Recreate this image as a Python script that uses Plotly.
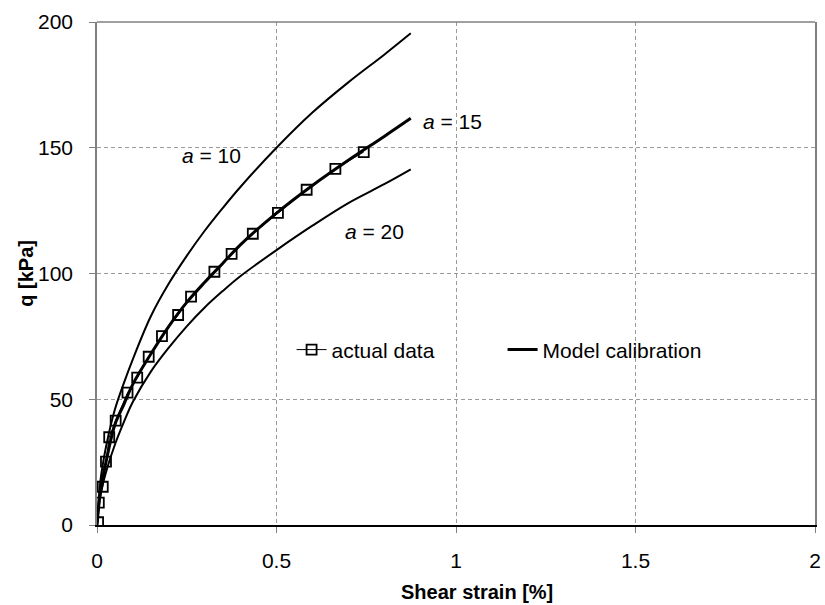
import plotly.graph_objects as go

# Measured stress-strain points
data_strain = [0.003, 0.005, 0.016, 0.025, 0.034, 0.052, 0.085, 0.112, 0.144, 0.181,
               0.226, 0.262, 0.327, 0.375, 0.434, 0.504, 0.584, 0.664, 0.743]
data_q = [1.1, 8.9, 15.2, 25.2, 34.9, 41.5, 52.6, 58.6, 66.9, 75.1,
          83.5, 90.8, 100.7, 107.8, 115.8, 124.1, 133.3, 141.6, 148.3]

# Model curves for a = 10, 15 (calibrated) and 20
model_strain = [0, 0.01, 0.025, 0.05, 0.075, 0.1, 0.15, 0.2, 0.25, 0.3, 0.35, 0.4,
                0.5, 0.6, 0.7, 0.8, 0.874]
q_a10 = [0, 18, 31, 46, 56.5, 66, 83, 96, 107, 117, 126, 134.5,
         150, 164, 176, 187, 195.5]
q_a15 = [0, 14, 25, 40, 48, 56, 68, 79, 88.5, 96.5, 104, 111.5,
         124, 135, 145, 154.5, 161.7]
q_a20 = [0, 12, 21, 32, 41, 49, 61, 70.5, 79, 86.5, 93, 99,
         109.3, 119, 128, 135.5, 141.4]

curve_labels = ["<i>a</i> = 10", "<i>a</i> = 15", "<i>a</i> = 20"]
label_x = [0.318, 0.990, 0.773]
label_y = [147.1, 160.4, 116.6]

x_ticks = [0, 0.5, 1, 1.5, 2]
x_tick_text = ["0", "0.5", "1", "1.5", "2"]
y_ticks = [0, 50, 100, 150, 200]

FONT = "Liberation Sans, Arial, sans-serif"
GRID = "#9a9a9a"
FRAME = "#808080"
DASH = "4px,3px"

fig = go.Figure()

fig.add_trace(go.Scatter(x=model_strain, y=q_a10, mode="lines",
                         line=dict(color="black", width=2, shape="spline", smoothing=1),
                         showlegend=False))
fig.add_trace(go.Scatter(x=model_strain, y=q_a20, mode="lines",
                         line=dict(color="black", width=2, shape="spline", smoothing=1),
                         showlegend=False))
fig.add_trace(go.Scatter(x=data_strain, y=data_q, mode="lines+markers",
                         name="actual data",
                         line=dict(color="black", width=1),
                         marker=dict(symbol="square-open", size=10, color="black",
                                     line=dict(color="black", width=1.8))))
fig.add_trace(go.Scatter(x=model_strain, y=q_a15, mode="lines",
                         name="Model calibration",
                         line=dict(color="black", width=3, shape="spline", smoothing=1)))

for txt, lx, ly in zip(curve_labels, label_x, label_y):
    fig.add_annotation(x=lx, y=ly, text=txt, showarrow=False,
                       font=dict(family=FONT, size=21, color="black"),
                       xanchor="center", yanchor="middle")

# Axis titles
fig.add_annotation(xref="paper", yref="paper", x=0.529, y=-0.133,
                   text="<b>Shear strain [%]</b>", showarrow=False,
                   font=dict(family=FONT, size=20, color="black"),
                   xanchor="center", yanchor="middle")
fig.add_annotation(xref="paper", yref="paper", x=-0.1, y=0.5,
                   text="<b>q [kPa]</b>", showarrow=False, textangle=-90,
                   font=dict(family=FONT, size=20, color="black"),
                   xanchor="center", yanchor="middle")

# Top border of the plot area
fig.add_shape(type="line", xref="paper", yref="paper", x0=0, x1=1, y0=1, y1=1,
              line=dict(color=FRAME, width=1.5))

fig.update_xaxes(range=[0, 2], tickvals=x_ticks, ticktext=x_tick_text,
                 showgrid=True, gridcolor=GRID, griddash=DASH, gridwidth=1,
                 showline=True, linecolor="black", linewidth=1.5,
                 ticks="outside", ticklen=6, tickcolor=FRAME,
                 zeroline=False, ticklabelstandoff=10,
                 tickfont=dict(family=FONT, size=21, color="black"))
fig.update_yaxes(range=[0, 200], tickvals=y_ticks,
                 showgrid=True, gridcolor=GRID, griddash=DASH, gridwidth=1,
                 showline=True, linecolor=FRAME, linewidth=1.5, mirror=True,
                 ticks="outside", ticklen=6, tickcolor=FRAME,
                 zeroline=False, ticklabelstandoff=12,
                 tickfont=dict(family=FONT, size=21, color="black"))

fig.update_layout(
    width=825, height=605,
    margin=dict(l=97, r=4, t=22, b=80),
    paper_bgcolor="white", plot_bgcolor="white",
    font=dict(family=FONT, size=21, color="black"),
    legend=dict(orientation="h", x=0.271, y=0.348, xanchor="left", yanchor="middle",
                bgcolor="rgba(0,0,0,0)", entrywidthmode="pixels", entrywidth=166,
                font=dict(family=FONT, size=21, color="black"),
                traceorder="normal"),
)

fig.write_html("out.html")
